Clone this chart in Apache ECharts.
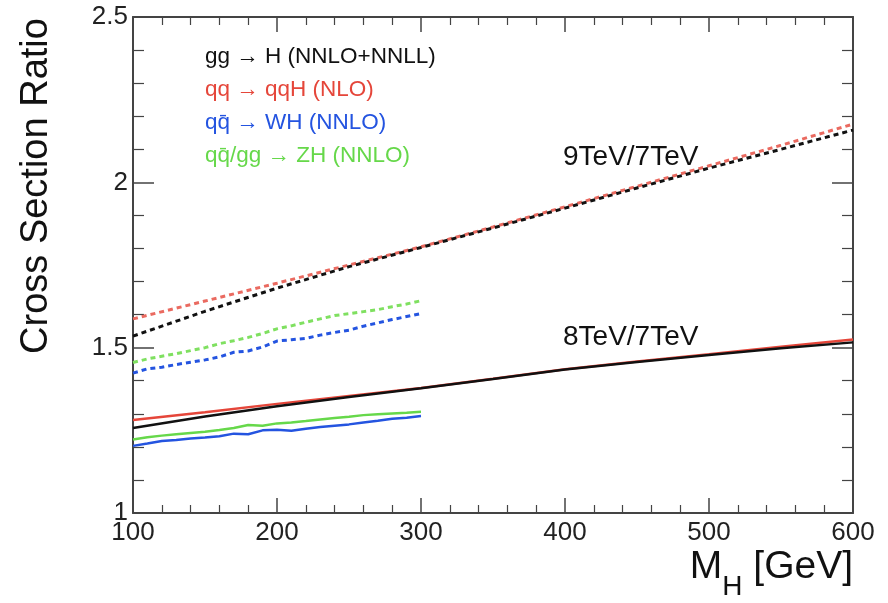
<!DOCTYPE html>
<html>
<head>
<meta charset="utf-8">
<script src="https://cdn.jsdelivr.net/npm/echarts@6/dist/echarts.min.js"></script>
<style>
  html, body { margin: 0; padding: 0; background: #fff; }
  #chart { width: 888px; height: 603px; }
</style>
</head>
<body>
<div id="chart"></div>
<script>
// masses (GeV)
var massFull = [100, 150, 200, 250, 300, 350, 400, 450, 500, 550, 600];
var massLow = [100, 110, 120, 130, 140, 150, 160, 170, 180, 190, 200,
               210, 220, 230, 240, 250, 260, 270, 280, 290, 300];

// 9TeV / 7TeV ratios (dashed)
var gg9 = [1.535, 1.610, 1.680, 1.745, 1.803, 1.862, 1.922, 1.983, 2.043, 2.100, 2.158];
var qqH9 = [1.587, 1.641, 1.695, 1.750, 1.805, 1.865, 1.926, 1.988, 2.050, 2.112, 2.176];
var wh9 = [1.423, 1.436, 1.441, 1.449, 1.456, 1.463, 1.472, 1.486, 1.490, 1.502, 1.520,
           1.524, 1.528, 1.538, 1.546, 1.553, 1.565, 1.575, 1.585, 1.594, 1.603];
var zh9 = [1.455, 1.466, 1.474, 1.482, 1.491, 1.500, 1.512, 1.521, 1.531, 1.543, 1.557,
           1.566, 1.577, 1.587, 1.597, 1.603, 1.609, 1.615, 1.624, 1.632, 1.642];

// 8TeV / 7TeV ratios (solid)
var gg8 = [1.257, 1.292, 1.323, 1.351, 1.377, 1.405, 1.434, 1.457, 1.478, 1.498, 1.516];
var qqH8 = [1.281, 1.305, 1.330, 1.354, 1.378, 1.406, 1.435, 1.458, 1.480, 1.503, 1.525];
var wh8 = [1.203, 1.210, 1.218, 1.221, 1.225, 1.228, 1.232, 1.240, 1.238, 1.250, 1.252,
           1.249, 1.255, 1.260, 1.264, 1.268, 1.274, 1.279, 1.285, 1.288, 1.293];
var zh8 = [1.222, 1.229, 1.234, 1.238, 1.242, 1.246, 1.251, 1.257, 1.266, 1.264, 1.271,
           1.274, 1.278, 1.283, 1.287, 1.291, 1.296, 1.299, 1.301, 1.303, 1.306];

var legendLabels = ['gg \u2192 H (NNLO+NNLL)', 'qq \u2192 qqH (NLO)',
                    'q\u0071\u0304 \u2192 WH (NNLO)', 'q\u0071\u0304/gg \u2192 ZH (NNLO)'];
var energyLabels = ['9TeV/7TeV', '8TeV/7TeV'];

var FONT = '"Liberation Sans", Arial, Helvetica, sans-serif';
var BLACK = '#111', RED = '#e5463a', BLUE = '#2454e0', GREEN = '#66d84a';

function pairs(xs, ys) {
  var out = [];
  for (var i = 0; i < xs.length; i++) out.push([xs[i], ys[i]]);
  return out;
}

function mkLine(name, xs, ys, color, dashed) {
  return {
    name: name,
    type: 'line',
    data: pairs(xs, ys),
    showSymbol: false,
    silent: true,
    lineStyle: { color: color, width: dashed ? 3 : 2.5, type: dashed ? [5, 4] : 'solid' },
    z: 2
  };
}

function frameAxis(pos, isX, labels) {
  var ax = {
    type: 'value',
    position: pos,
    min: isX ? 100 : 1,
    max: isX ? 600 : 2.5,
    interval: isX ? 100 : 0.5,
    splitLine: { show: false },
    axisLine: { show: true, onZero: false, lineStyle: { color: '#444', width: 2 } },
    axisTick: { show: true, inside: true, length: isX ? 15 : 21, lineStyle: { color: '#444', width: 1.5 } },
    minorTick: { show: true, splitNumber: 5, length: isX ? 8 : 11, lineStyle: { color: '#444', width: 1.2 } },
    axisLabel: { show: labels, color: '#222', fontSize: 26, fontFamily: FONT, margin: isX ? 7 : 5 }
  };
  return ax;
}

var chart = echarts.init(document.getElementById('chart'));

var option = {
  backgroundColor: '#fff',
  animation: false,
  grid: { left: 133, right: 35, top: 17, bottom: 90, outerBoundsMode: 'none' },
  xAxis: [frameAxis('bottom', true, true), frameAxis('top', true, false)],
  yAxis: [frameAxis('left', false, true), frameAxis('right', false, false)],
  series: [
    mkLine('qqH 9/7', massFull, qqH9, '#ea6a60', true),
    mkLine('gg 9/7', massFull, gg9, BLACK, true),
    mkLine('ZH 9/7', massLow, zh9, '#7fe060', true),
    mkLine('WH 9/7', massLow, wh9, BLUE, true),
    mkLine('qqH 8/7', massFull, qqH8, RED, false),
    mkLine('gg 8/7', massFull, gg8, BLACK, false),
    mkLine('ZH 8/7', massLow, zh8, GREEN, false),
    mkLine('WH 8/7', massLow, wh8, BLUE, false)
  ],
  graphic: [
    { type: 'text', x: 205, y: 57, style: { text: legendLabels[0], fill: BLACK, font: '22.5px ' + FONT, textVerticalAlign: 'middle' } },
    { type: 'text', x: 205, y: 90, style: { text: legendLabels[1], fill: RED, font: '22.5px ' + FONT, textVerticalAlign: 'middle' } },
    { type: 'text', x: 205, y: 123, style: { text: legendLabels[2], fill: BLUE, font: '22.5px ' + FONT, textVerticalAlign: 'middle' } },
    { type: 'text', x: 205, y: 156, style: { text: legendLabels[3], fill: GREEN, font: '22.5px ' + FONT, textVerticalAlign: 'middle' } },
    { type: 'text', x: 563, y: 157, style: { text: energyLabels[0], fill: '#111', font: '28px ' + FONT, textVerticalAlign: 'middle' } },
    { type: 'text', x: 563, y: 337, style: { text: energyLabels[1], fill: '#111', font: '28px ' + FONT, textVerticalAlign: 'middle' } },
    { type: 'text', x: 37, y: 186, rotation: Math.PI / 2,
      style: { text: 'Cross Section Ratio', fill: '#111', font: '38px ' + FONT, textAlign: 'center', textVerticalAlign: 'middle' } },
    { type: 'text', x: 853, y: 567,
      style: {
        text: '{m|M}{h|H}{m| [GeV]}',
        textAlign: 'right', textVerticalAlign: 'middle',
        rich: {
          m: { fontSize: 39, fontFamily: FONT, fill: '#111', color: '#111' },
          h: { fontSize: 28, fontFamily: FONT, fill: '#111', color: '#111', padding: [40, 0, 0, 0] }
        }
      } }
  ]
};

chart.setOption(option);
</script>
</body>
</html>
